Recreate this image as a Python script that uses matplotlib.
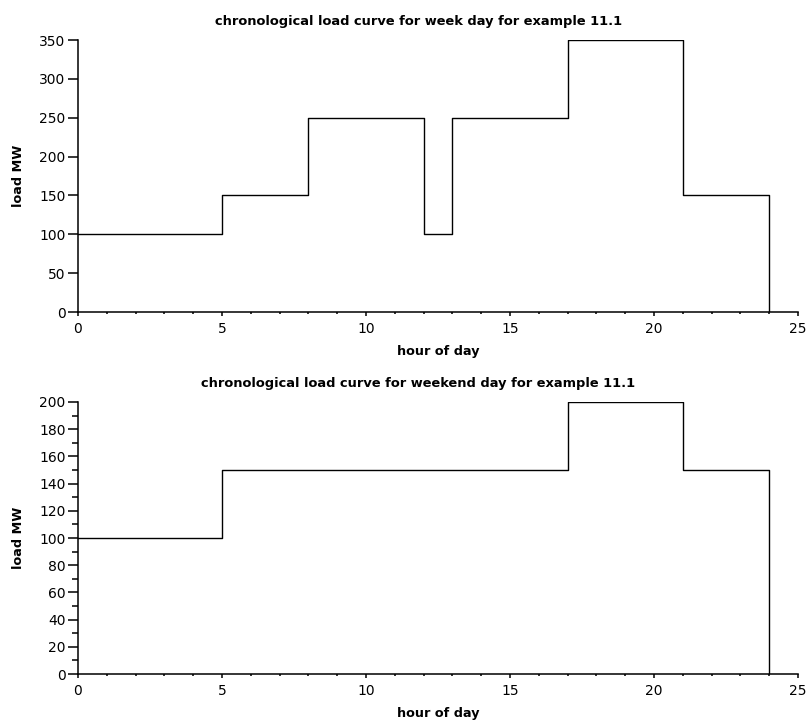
import matplotlib
matplotlib.use("Agg")
import matplotlib.pyplot as plt
from matplotlib.ticker import MultipleLocator

# hour boundaries and load per interval (MW)
week_hours = [0, 5, 8, 12, 13, 17, 21, 24]
week_load = [100, 150, 250, 100, 250, 350, 150]

weekend_hours = [0, 5, 17, 21, 24]
weekend_load = [100, 150, 200, 150]

titles = [
    "chronological load curve for week day for example 11.1",
    "chronological load curve for weekend day for example 11.1",
]


def step_xy(hours, load):
    # hold the last value to hour 24, then drop to zero
    x = list(hours) + [hours[-1]]
    y = list(load) + [load[-1], 0]
    return x, y


fig = plt.figure(figsize=(8.09, 7.26), dpi=100)
ax1 = fig.add_axes([0.0964, 0.5702, 0.89, 0.3747])
ax2 = fig.add_axes([0.0964, 0.0716, 0.89, 0.3747])

setups = [
    (ax1, week_hours, week_load, 350, 50, None),
    (ax2, weekend_hours, weekend_load, 200, 20, 10),
]

for (ax, hours, load, ymax, ystep, yminor), title in zip(setups, titles):
    x, y = step_xy(hours, load)
    ax.step(x, y, where="post", color="black", linewidth=1.0)
    ax.set_xlim(0, 25)
    ax.set_ylim(0, ymax)
    ax.xaxis.set_major_locator(MultipleLocator(5))
    ax.xaxis.set_minor_locator(MultipleLocator(1))
    ax.yaxis.set_major_locator(MultipleLocator(ystep))
    if yminor:
        ax.yaxis.set_minor_locator(MultipleLocator(yminor))
    for side in ("top", "right"):
        ax.spines[side].set_visible(False)
    for side in ("left", "bottom"):
        ax.spines[side].set_linewidth(1.1)
    ax.tick_params(axis="y", which="major", direction="out", length=7, width=1.1,
                   labelsize=10, pad=2)
    ax.tick_params(axis="y", which="minor", direction="out", length=4, width=1.1)
    ax.tick_params(axis="x", which="major", direction="out", length=3, width=1.1,
                   labelsize=10, pad=4)
    ax.tick_params(axis="x", which="minor", direction="out", length=1.5, width=1.1)
    ax.set_title(title, fontsize=9.4, fontweight="bold", pad=11, x=0.473)
    ax.set_xlabel("hour of day", fontsize=9.2, fontweight="bold", labelpad=7)
    ax.set_ylabel("load MW", fontsize=9.2, fontweight="bold", labelpad=10)

fig.savefig("out.png", dpi=100)
